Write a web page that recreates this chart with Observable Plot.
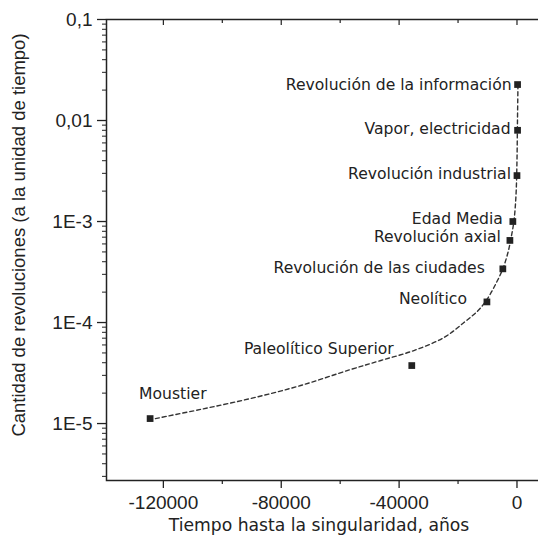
<!DOCTYPE html>
<html><head><meta charset="utf-8">
<script src="https://cdn.jsdelivr.net/npm/d3@7"></script>
<script src="https://cdn.jsdelivr.net/npm/@observablehq/plot@0.6"></script>
<style>html,body{margin:0;padding:0;background:#fff;overflow:hidden;} svg{max-width:none !important;}</style>
</head><body><div id="chart"></div>
<script>
// ---- data ----
const events = ["Moustier","Paleolítico Superior","Neolítico","Revolución de las ciudades","Revolución axial","Edad Media","Revolución industrial","Vapor, electricidad","Revolución de la información"];
const years = [-124500,-35700,-10200,-4800,-2400,-1400,0,200,200];
const rates = [1.12e-5,3.75e-5,1.6e-4,3.4e-4,6.5e-4,1.0e-3,2.85e-3,8.0e-3,2.27e-2];
// dashed fitted curve
const curveYears = [-122700,-107400,-90400,-73400,-56400,-46200,-35000,-24800,-18000,-13250,-10200,-7140,-4760,-3060,-2040,-1020,-340,0,170,340];
const curveRates = [1.12e-5,1.38e-5,1.77e-5,2.38e-5,3.43e-5,4.21e-5,5.28e-5,7.1e-5,1.0e-4,1.31e-4,1.69e-4,2.43e-4,3.43e-4,4.93e-4,6.79e-4,1.02e-3,1.81e-3,4.0e-3,1.0e-2,2.27e-2];
const xTicks = [-120000,-80000,-40000,0];
const xTickLabels = ["-120000","-80000","-40000","0"];
const xMinorTicks = [-100000,-60000,-20000];
const yTicks = [0.1,0.01,1e-3,1e-4,1e-5];
const yTickLabels = ["0,1","0,01","1E-3","1E-4","1E-5"];
const xLabel = "Tiempo hasta la singularidad, años";
const yLabel = "Cantidad de revoluciones (a la unidad de tiempo)";

// ---- label placement (layout, not data) ----
const labelLayout = [
  {anchor:"start", dx:-11, dy:-25},
  {anchor:"end", dx:-18, dy:-17},
  {anchor:"end", dx:-20, dy:-3},
  {anchor:"end", dx:-18, dy:-1},
  {anchor:"end", dx:-9, dy:-3},
  {anchor:"end", dx:-10, dy:-3},
  {anchor:"end", dx:-6, dy:-2},
  {anchor:"end", dx:-7, dy:-1},
  {anchor:"end", dx:-6, dy:0}
];

const points = events.map((name,i)=>({name, x:years[i], y:rates[i]}));
const curve = curveYears.map((x,i)=>({x, y:curveRates[i]}));
const yMinor = [];
for (let e=-6; e<=-2; e++) for (let m=2; m<=9; m++) { const v = m*Math.pow(10,e); if (v>2.73e-6 && v<0.1) yMinor.push(v); }

const fTick = "'Liberation Sans', Arial, sans-serif";
const fLab = "'DejaVu Sans', Verdana, sans-serif";
const ink = "#222";

const chart = Plot.plot({
  width: 548, height: 549,
  marginLeft: 106, marginRight: 5, marginTop: 19, marginBottom: 69,
  x: {type:"linear", domain:[-139300, 9000]},
  y: {type:"log", domain:[2.73e-6, 0.1]},
  style: {background:"#fff", color: ink, maxWidth:"none"},
  marks: [
    Plot.frame({stroke: ink, strokeWidth: 1.5}),
    Plot.axisX({anchor:"bottom", ticks:xTicks, tickSize:8, tickPadding:7, tickFormat:(d)=>xTickLabels[xTicks.indexOf(d)], fontSize:19, fontFamily:fTick, label:null, strokeWidth:1.3}),
    Plot.axisX({anchor:"bottom", ticks:xMinorTicks, tickSize:4, tickFormat:()=>"", label:null, strokeWidth:1.2}),
    Plot.axisX({anchor:"top", ticks:xTicks, tickSize:-5, tickFormat:()=>"", label:null, strokeWidth:1.2}),
    Plot.axisX({anchor:"top", ticks:xMinorTicks, tickSize:-3, tickFormat:()=>"", label:null, strokeWidth:1.2}),
    Plot.axisY({anchor:"left", ticks:yTicks, tickSize:9, tickPadding:5, tickFormat:(d)=>yTickLabels[yTicks.indexOf(d)], fontSize:19, fontFamily:fTick, label:null, strokeWidth:1.3}),
    Plot.axisY({anchor:"left", ticks:yMinor, tickSize:4, tickFormat:()=>"", label:null, strokeWidth:1}),
    Plot.axisY({anchor:"right", ticks:yTicks, tickSize:-5, tickFormat:()=>"", label:null, strokeWidth:1.2}),
    Plot.text([yLabel], {frameAnchor:"left", rotate:-90, textAnchor:"middle", dx:-87, dy:-15, fontSize:18.5, fontFamily:fTick, fill:ink}),
    Plot.text([xLabel], {frameAnchor:"bottom", textAnchor:"middle", dx:-6, dy:50, fontSize:17.2, fontFamily:fLab, fill:ink}),
    Plot.line(curve, {x:"x", y:"y", curve:"catmull-rom", stroke:"#333", strokeWidth:1.4, strokeDasharray:"4,3"}),
    Plot.dot(points, {x:"x", y:"y", symbol:"square", r:3.8, fill:ink, stroke:"none"}),
    ...points.map((p,i)=>Plot.text([p], {x:"x", y:"y", text:"name", textAnchor:labelLayout[i].anchor, dx:labelLayout[i].dx, dy:labelLayout[i].dy, fontSize:15.6, fontFamily:fLab, fill:ink}))
  ]
});
document.getElementById("chart").appendChild(chart);
</script>
</body></html>
